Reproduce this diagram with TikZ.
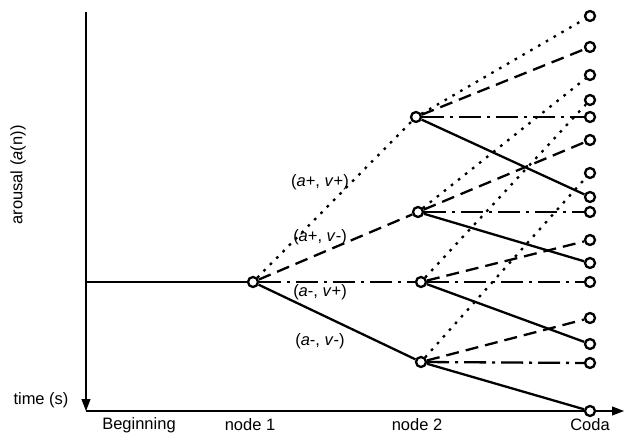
\documentclass[tikz,border=0pt]{standalone}
\usepackage{fontspec}
\setmainfont{Liberation Sans}
\usetikzlibrary{arrows.meta}
\tikzset{
  st/.style={circle,draw,fill=white,line width=2.3pt,inner sep=0pt,minimum size=10pt},
  br/.style={line width=2.3pt},
  dotbr/.style={br,dash pattern=on 2.6pt off 6.4pt},
  dashbr/.style={br,dash pattern=on 13pt off 7pt},
  dashdotbr/.style={br,dash pattern=on 22pt off 6pt on 3pt off 6pt},
  axis/.style={line width=1.1pt},
  lbl/.style={font=\fontsize{16.5}{19}\selectfont,inner sep=0pt}
}
\begin{document}
\begin{tikzpicture}[x=1pt,y=-1pt]
\useasboundingbox (0,0) rectangle (624,436);
% coordinates
\coordinate (ytop) at (86,12);
\coordinate (origin) at (86,411);
\coordinate (xend) at (624,411);
\coordinate (start) at (86,282);
% axes
\draw[axis,-{Triangle[length=12pt,width=9pt]}] (ytop) -- (origin);
\draw[axis,-{Triangle[length=12pt,width=9pt]}] (origin) -- (xend);
% nodes
\node[st] (n1) at (253,282) {};
\node[st] (a) at (416,117) {};
\node[st] (b) at (418,212) {};
\node[st] (c) at (421,282) {};
\node[st] (d) at (421,362) {};
\foreach \i/\y in {1/16,2/47,3/75,4/100,5/117,6/140,7/173,8/197,9/212,10/240,11/263,12/282,13/318,14/344,15/363,16/411}{
  \node[st] (k\i) at (590,\y) {};
}
% start line
\draw[br] (start) -- (n1);
% node1 branches
\draw[dotbr] (n1) -- (a);
\draw[dashbr] (n1) -- (b);
\draw[dashdotbr] (n1) -- (c);
\draw[br] (n1) -- (d);
% node2 a
\draw[dotbr] (a) -- (k1);
\draw[dashbr] (a) -- (k2);
\draw[dashdotbr] (a) -- (k5);
\draw[br] (a) -- (k8);
% node2 b
\draw[dotbr] (b) -- (k3);
\draw[dashbr] (b) -- (k6);
\draw[dashdotbr] (b) -- (k9);
\draw[br] (b) -- (k11);
% node2 c
\draw[dotbr] (c) -- (k4);
\draw[dashbr] (c) -- (k10);
\draw[dashdotbr] (c) -- (k12);
\draw[br] (c) -- (k14);
% node2 d
\draw[dotbr] (d) -- (k7);
\draw[dashbr] (d) -- (k13);
\draw[dashdotbr] (d) -- (k15);
\draw[br] (d) -- (k16);
% labels
\node[lbl] (l1) at (320,182) {(\textit{a}+, \textit{v}+)};
\node[lbl] (l2) at (320,237) {(\textit{a}+, \textit{v}-)};
\node[lbl] (l3) at (320,292) {(\textit{a}-, \textit{v}+)};
\node[lbl] (l4) at (320,341) {(\textit{a}-, \textit{v}-)};
\node[lbl] (tm) at (41,400) {time (s)};
\node[lbl] (t0) at (139,425) {Beginning};
\node[lbl] (t1) at (250,425) {node 1};
\node[lbl] (t2) at (417,425) {node 2};
\node[lbl] (t3) at (590,425) {Coda};
\node[lbl,rotate=90] (ya) at (18,175) {arousal (\textit{a}(n))};
\end{tikzpicture}
\end{document}
